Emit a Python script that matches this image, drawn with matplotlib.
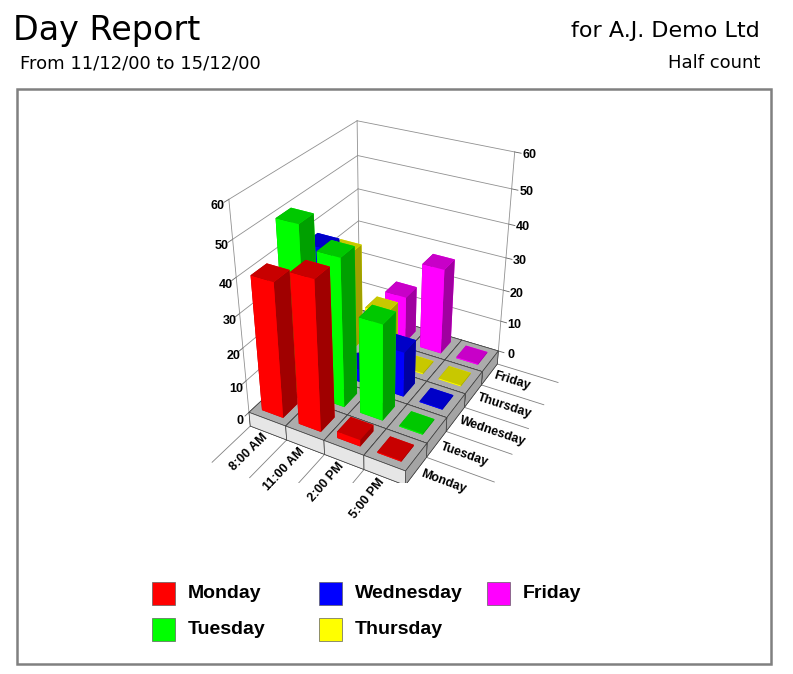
import matplotlib
matplotlib.use("Agg")
import math
import matplotlib.pyplot as plt
import numpy as np
from matplotlib.patches import Rectangle

# ------------------------------
# data
# ------------------------------
times = ["8:00 AM", "11:00 AM", "2:00 PM", "5:00 PM"]
days = ["Monday", "Tuesday", "Wednesday", "Thursday", "Friday"]

monday = [40, 44, 2, 0]
tuesday = [50, 44, 29, 0]
wednesday = [38, 4, 14, 0]
thursday = [31, 16, 0, 0]
friday = [0, 15, 27, 0]
series = [monday, tuesday, wednesday, thursday, friday]

z_ticks = [0, 10, 20, 30, 40, 50, 60]

# front / top / side shades per day
front_cols = ["#ff0000", "#00ff00", "#0000ff", "#ffff00", "#ff00ff"]
top_cols = ["#c80000", "#00c800", "#0000c8", "#c8c800", "#c800c8"]
side_cols = ["#a00000", "#00a000", "#0000a0", "#a0a000", "#a000a0"]

W, H = 793, 674
fig = plt.figure(figsize=(W / 100, H / 100), dpi=100)


def fx(px):
    return px / W


def fy(py):
    return 1 - py / H


# header
fig.text(fx(13), fy(40), "Day Report", fontsize=24, family="DejaVu Sans",
         ha="left", va="baseline")
fig.text(fx(760), fy(37), "for A.J. Demo Ltd", fontsize=16, family="DejaVu Sans",
         ha="right", va="baseline")
fig.text(fx(20), fy(68), "From 11/12/00 to 15/12/00", fontsize=13,
         family="DejaVu Sans", ha="left", va="baseline")
fig.text(fx(760), fy(68), "Half count", fontsize=13, family="DejaVu Sans",
         ha="right", va="baseline")

# frame
fig.patches.append(Rectangle((fx(17), fy(664)), fx(771) - fx(17), fy(89) - fy(664),
                             transform=fig.transFigure, fill=False,
                             edgecolor="#808080", lw=1.8))

# ------------------------------
# 3d chart
# ------------------------------
ax = fig.add_axes([0.235, 0.284, 0.475, 0.551], projection="3d",
                  computed_zorder=False)
ax.set_proj_type("persp", focal_length=0.45)
ax.view_init(elev=31, azim=-61)
slab = 4.5
nx, ny = len(times), len(days)
ax.set_xlim(0, nx)
ax.set_ylim(0, ny)
ax.set_zlim(-slab, 60)
ax.set_box_aspect((nx, ny, 5.7))
ax.set_axis_off()

# walls (left at x=0, back at y=ny)
wall_c = "#909090"
for z in z_ticks:
    ax.plot([0, 0], [0, ny], [z, z], color=wall_c, lw=0.6, zorder=0)
    ax.plot([0, nx], [ny, ny], [z, z], color=wall_c, lw=0.6, zorder=0)
    ax.plot([0, 0], [0, -0.15], [z, z], color="#606060", lw=0.6, zorder=0)
    ax.plot([nx, nx + 0.15], [ny, ny], [z, z], color="#606060", lw=0.6, zorder=0)
for xx, yy in [(0, 0), (0, ny), (nx, ny)]:
    ax.plot([xx, xx], [yy, yy], [0, 60], color=wall_c, lw=0.6, zorder=0)

# floor slab
gx, gy = np.meshgrid(np.arange(nx), np.arange(ny), indexing="ij")
gx, gy = gx.ravel(), gy.ravel()
slab_faces = ["#acacac", "#acacac", "#e6e6e6", "#e6e6e6", "#a4a4a4", "#a4a4a4"]
ax.bar3d(gx, gy, np.full(gx.shape, -slab), 1, 1, slab,
         color=slab_faces * len(gx), edgecolor="#404040", linewidth=0.5,
         shade=False, zorder=1)

# guide lines under the labels
for i in range(nx + 1):
    ax.plot([i, i], [0, -1.4], [-slab, -slab], color="#808080", lw=0.6, zorder=0)
for j in range(ny + 1):
    ax.plot([nx, nx + 1.6], [j, j], [-slab, -slab], color="#808080", lw=0.6,
            zorder=0)

# bars
bx, by, bh, bc = [], [], [], []
for j, vals in enumerate(series):
    for i, v in enumerate(vals):
        bx.append(i + 0.21)
        by.append(j + 0.21)
        bh.append(max(v, 0.3))
        # -z, +z, -y, +y, -x, +x
        bc += [top_cols[j], top_cols[j], front_cols[j], front_cols[j],
               side_cols[j], side_cols[j]]
ax.bar3d(bx, by, np.zeros(len(bx)), 0.58, 0.58, bh, color=bc,
         shade=False, linewidth=0, zorder=2)

# ------------------------------
# labels: project 3d anchor points to 2d so they behave as plain text
# ------------------------------
fig.canvas.draw()


def proj(x, y, z):
    v = ax.M @ np.array([x, y, z, 1.0])
    return v[0] / v[3], v[1] / v[3]


def label(x, y, z, s, direction=None, **kw):
    px, py = proj(x, y, z)
    rot = 0
    if direction is not None:
        qx, qy = proj(x + direction[0], y + direction[1], z + direction[2])
        a = ax.transData.transform([(px, py), (qx, qy)])
        rot = math.degrees(math.atan2(a[1, 1] - a[0, 1], a[1, 0] - a[0, 0]))
    ax.text2D(px, py, s, transform=ax.transData, rotation=rot,
              rotation_mode="anchor", fontweight="bold",
              family="Liberation Sans", **kw)


for z in z_ticks:
    label(0, -0.35, z, str(z), fontsize=9, ha="center", va="center")
    label(nx + 0.35, ny, z, str(z), fontsize=9, ha="center", va="center")
for i, t in enumerate(times):
    label(i + 0.5, -0.1, -slab, t, direction=(0, 1, 0), fontsize=9,
          ha="right", va="center")
for j, d in enumerate(days):
    label(nx + 0.12, j + 0.5, -slab, d, direction=(1, 0, 0), fontsize=9,
          ha="left", va="center")

# legend
leg_pos = [(152, 582), (152, 618), (319, 582), (319, 618), (487, 582)]
for (px, py), d, c in zip(leg_pos, days, front_cols):
    fig.patches.append(Rectangle((fx(px), fy(py + 23)), fx(23), 23 / H,
                                 transform=fig.transFigure, facecolor=c,
                                 edgecolor="#606060", lw=0.5))
    fig.text(fx(px + 36), fy(py + 12), d, fontsize=14, fontweight="bold",
             family="Liberation Sans", ha="left", va="center")

fig.savefig("out.png", dpi=100)
